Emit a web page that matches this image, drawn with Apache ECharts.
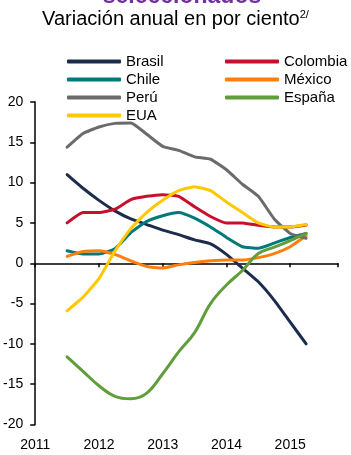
<!DOCTYPE html>
<html><head><meta charset="utf-8">
<script src="https://cdn.jsdelivr.net/npm/echarts@6/dist/echarts.min.js"></script>
<style>html,body{margin:0;padding:0;background:#fff}#c{width:351px;height:455px}</style>
</head><body><div id="c"></div>
<script>
const years = [2011.5, 2011.75, 2012, 2012.25, 2012.5, 2012.75, 2013, 2013.25, 2013.5, 2013.75, 2014, 2014.25, 2014.5, 2014.75, 2015, 2015.25];
const brasil   = [11.0, 9.3, 7.8, 6.5, 5.5, 4.8, 4.1, 3.55, 2.9, 2.4, 1.1, -0.6, -2.3, -4.6, -7.3, -10.0];
const colombia = [5.0, 6.3, 6.3, 6.7, 7.9, 8.3, 8.5, 8.3, 7.0, 5.8, 5.0, 5.0, 4.7, 4.5, 4.5, 4.75];
const chile    = [1.55, 1.15, 1.15, 1.8, 3.8, 5.2, 5.9, 6.3, 5.6, 4.5, 3.2, 2.05, 1.85, 2.5, 3.2, 3.7];
const mexico   = [0.85, 1.45, 1.55, 1.1, 0.3, -0.4, -0.6, -0.2, 0.1, 0.3, 0.4, 0.4, 0.7, 1.2, 2.05, 3.4];
const peru     = [14.4, 16.1, 16.9, 17.35, 17.4, 16.0, 14.5, 14.0, 13.2, 12.9, 11.6, 9.8, 8.3, 5.5, 3.7, 3.1];
const espana   = [-11.6, -13.4, -15.2, -16.5, -16.8, -16.1, -13.7, -11.0, -8.6, -5.0, -2.7, -0.9, 1.2, 2.0, 2.8, 3.7];
const eua      = [-5.9, -4.2, -1.9, 1.5, 4.3, 6.3, 7.8, 9.0, 9.5, 9.0, 7.6, 6.3, 5.0, 4.5, 4.5, 4.8];
const yTicks = [-20, -15, -10, -5, 0, 5, 10, 15, 20];
const xTicks = [2011, 2012, 2013, 2014, 2015];

const names = ['Brasil', 'Colombia', 'Chile', 'México', 'Perú', 'España', 'EUA'];
const values = [brasil, colombia, chile, mexico, peru, espana, eua];
const colors = ['#1b2c4c', '#c8102e', '#00797a', '#ff7f0e', '#6b6b6b', '#5f9e3a', '#ffc800'];
const FONT = 'Liberation Sans, Arial, sans-serif';

const chart = echarts.init(document.getElementById('c'));
const series = names.map((n, i) => ({
  name: n,
  type: 'line',
  showSymbol: false,
  smooth: n === 'España' ? 0.4 : 0.15,
  lineStyle: { width: 3, color: colors[i], cap: 'round', join: 'round' },
  itemStyle: { color: colors[i] },
  data: years.map((y, k) => [y, values[i][k]]),
  z: 2 + i
}));

const legendCommon = {
  orient: 'vertical',
  icon: 'roundRect',
  itemWidth: 54,
  itemHeight: 4,
  itemGap: 3,
  padding: 0,
  textStyle: { fontFamily: FONT, fontSize: 15, color: '#000', lineHeight: 15 },
};

chart.setOption({
  animation: false,
  textStyle: { fontFamily: FONT },
  graphic: [
    { type: 'text', x: 182, y: 8, z: 100, style: { text: 'seleccionados', font: 'bold 23px ' + FONT, fill: '#7030a0', align: 'center', verticalAlign: 'bottom' } },
    { type: 'text', left: 'center', top: 9, style: {
        rich: { a: { fontSize: 20, fontFamily: FONT, fill: '#000' }, s: { fontSize: 11, fontFamily: FONT, fill: '#000', verticalAlign: 'top', padding: [0,0,10,0] } },
        text: '{a|Variación anual en por ciento}{s|2/}' } }
  ],
  legend: [
    Object.assign({}, legendCommon, { left: 67, top: 54, data: ['Brasil', 'Chile', 'Perú', 'EUA'] }),
    Object.assign({}, legendCommon, { left: 225, top: 54, data: ['Colombia', 'México', 'España'] })
  ],
  grid: { left: 35, right: 13, top: 102, bottom: 30.5, containLabel: false },
  xAxis: [
    { type: 'value', min: xTicks[0], max: 2015.75, interval: 1,
      axisLine: { onZero: true, lineStyle: { color: '#000', width: 1.5 } },
      axisTick: { show: true, length: 4, inside: false, lineStyle: { color: '#000', width: 1.5 } },
      axisLabel: { show: false }, splitLine: { show: false } },
    { type: 'value', min: xTicks[0], max: 2015.75, interval: 1, position: 'bottom',
      axisLine: { show: false, onZero: false }, axisTick: { show: false }, splitLine: { show: false },
      axisLabel: { show: true, margin: 14, fontSize: 14, color: '#000', fontFamily: FONT, showMaxLabel: false,
        formatter: v => xTicks.includes(v) ? String(v) : '' } }
  ],
  yAxis: { type: 'value', min: yTicks[0], max: yTicks[yTicks.length - 1], interval: 5,
    axisLine: { show: true, lineStyle: { color: '#000', width: 1.5 } },
    axisTick: { show: true, length: 5, lineStyle: { color: '#000', width: 1.5 } },
    axisLabel: { margin: 12, fontSize: 14, color: '#000', fontFamily: FONT },
    splitLine: { show: false } },
  series: series
});
</script></body></html>
